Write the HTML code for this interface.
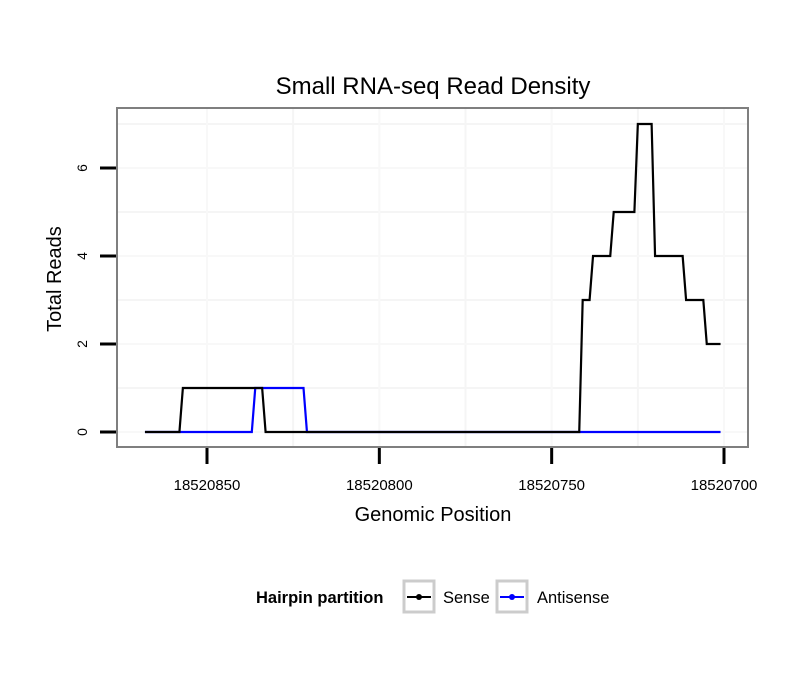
<!DOCTYPE html>
<html><head><meta charset="utf-8"><style>
body{margin:0;background:#fff;}
svg text{font-family:"Liberation Sans",sans-serif;}
</style></head><body>
<svg id="chart" width="810" height="690" viewBox="0 0 810 690">
<rect x="117" y="108" width="631" height="339" fill="#fff" stroke="#7f7f7f" stroke-width="2"/>
<g id="gridLayer"></g>
<g id="seriesLayer"></g>
<g id="axesLayer"></g>
<text x="433" y="94" font-size="24" text-anchor="middle">Small RNA-seq Read Density</text>
<text x="433" y="521" font-size="20" text-anchor="middle">Genomic Position</text>
<text x="0" y="0" font-size="20" text-anchor="middle" transform="translate(61,279) rotate(-90)">Total Reads</text>
<g>
<text x="256" y="603" font-size="16.5" font-weight="bold">Hairpin partition</text>
<g>
<rect x="404" y="581" width="30" height="31" fill="#fff" stroke="#ccc" stroke-width="3"/>
<line x1="407" y1="597" x2="431" y2="597" stroke="#000" stroke-width="2"/>
<circle cx="419" cy="597" r="3" fill="#000"/>
<text x="443" y="603" font-size="16.5">Sense</text></g>
<g>
<rect x="497" y="581" width="30" height="31" fill="#fff" stroke="#ccc" stroke-width="3"/>
<line x1="500" y1="597" x2="524" y2="597" stroke="#00f" stroke-width="2"/>
<circle cx="512" cy="597" r="3" fill="#00f"/>
<text x="537" y="603" font-size="16.5">Antisense</text></g>
</g>
</svg>
<script>
var senseX=[18520868,18520858,18520857,18520834,18520833,18520742,18520741,18520739,18520738,18520733,18520732,18520726,18520725,18520721,18520720,18520712,18520711,18520706,18520705,18520701];
var senseY=[0,0,1,1,0,0,3,3,4,4,5,5,7,7,4,4,3,3,2,2];
var antiX=[18520868,18520837,18520836,18520822,18520821,18520701];
var antiY=[0,0,1,1,0,0];
var xTicks=[18520850,18520800,18520750,18520700];
var yTicks=[0,2,4,6];
var NS='http://www.w3.org/2000/svg';
function sx(v){return 207+(18520850-v)*(517/150);}
function sy(v){return 432-v*44;}
var gL=document.getElementById('gridLayer'),sL=document.getElementById('seriesLayer'),aL=document.getElementById('axesLayer');
function mk(tag,a,p){var e=document.createElementNS(NS,tag);for(var k in a)e.setAttribute(k,a[k]);p.appendChild(e);return e;}
for(var i=0;i<xTicks.length-1;i++){var m=(xTicks[i]+xTicks[i+1])/2;var g=mk('line',{x1:sx(m),x2:sx(m),y1:109,y2:446,stroke:'#f5f5f5','stroke-width':2},gL);

}
for(var j=0;j<yTicks.length;j++){var m2=yTicks[j]+1;var g2=mk('line',{x1:118,x2:747,y1:sy(m2),y2:sy(m2),stroke:'#f5f5f5','stroke-width':2},gL);

}
xTicks.forEach(function(t){var g=mk('line',{x1:sx(t),x2:sx(t),y1:109,y2:446,stroke:'#f8f8f8','stroke-width':2},gL);


var k=mk('line',{x1:sx(t),x2:sx(t),y1:448,y2:464,stroke:'#000','stroke-width':3},aL);


var l=mk('text',{x:sx(t),y:490,'font-size':15,'text-anchor':'middle'},aL);l.textContent=t;

});
yTicks.forEach(function(t){var g=mk('line',{x1:118,x2:747,y1:sy(t),y2:sy(t),stroke:'#f8f8f8','stroke-width':2},gL);


var k=mk('line',{x1:100,x2:116,y1:sy(t),y2:sy(t),stroke:'#000','stroke-width':3},aL);


var l=mk('text',{x:0,y:0,'font-size':14,'text-anchor':'middle',transform:'translate(87,'+sy(t)+') rotate(-90)'},aL);l.textContent=t;

});
function drawLine(X,Y,c,n){var p=mk('polyline',{points:X.map(function(x,i){return sx(x)+','+sy(Y[i]);}).join(' '),fill:'none',stroke:c,'stroke-width':2.2},sL);

}
drawLine(antiX,antiY,'#00f','antisense-line');
drawLine(senseX,senseY,'#000','sense-line');
</script>
</body></html>
